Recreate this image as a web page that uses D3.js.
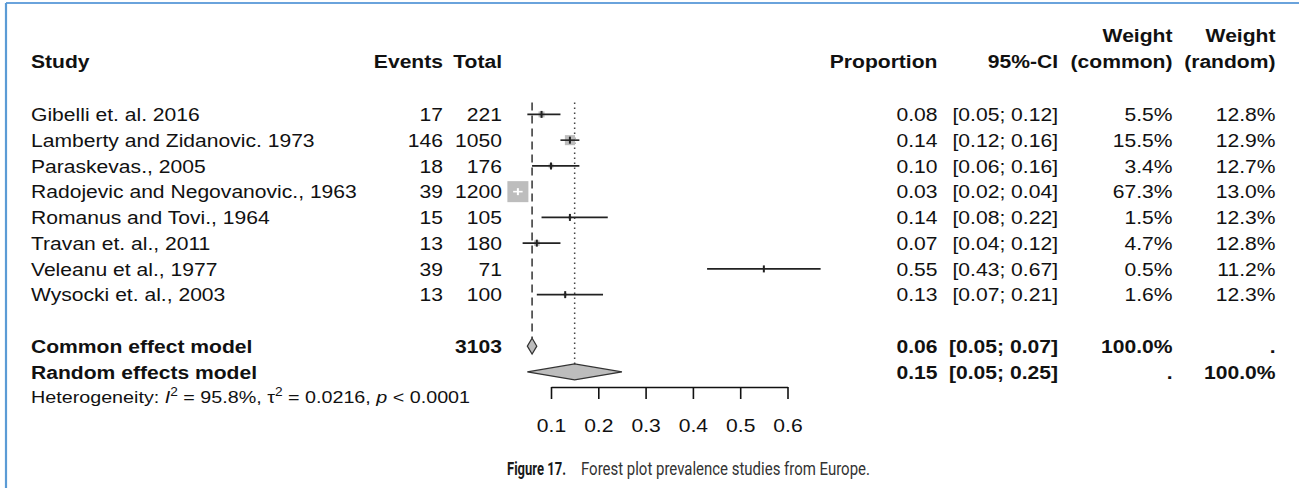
<!DOCTYPE html>
<html>
<head>
<meta charset="utf-8">
<script src="https://cdn.jsdelivr.net/npm/d3@7"></script>
<style>
  html, body { margin: 0; padding: 0; background: #fff; }
  svg { display: block; }
</style>
</head>
<body>
<svg id="chart" width="1299" height="488"></svg>
<script>
// ---------------- data ----------------
const studies = [
  "Gibelli et. al. 2016",
  "Lamberty and Zidanovic. 1973",
  "Paraskevas., 2005",
  "Radojevic and Negovanovic., 1963",
  "Romanus and Tovi., 1964",
  "Travan et. al., 2011",
  "Veleanu et al., 1977",
  "Wysocki et. al., 2003"
];
const events = [17, 146, 18, 39, 15, 13, 39, 13];
const totals = [221, 1050, 176, 1200, 105, 180, 71, 100];
const proportion = [0.08, 0.14, 0.10, 0.03, 0.14, 0.07, 0.55, 0.13];
const ciLower = [0.05, 0.12, 0.06, 0.02, 0.08, 0.04, 0.43, 0.07];
const ciUpper = [0.12, 0.16, 0.16, 0.04, 0.22, 0.12, 0.67, 0.21];
const weightCommon = [5.5, 15.5, 3.4, 67.3, 1.5, 4.7, 0.5, 1.6];
const weightRandom = [12.8, 12.9, 12.7, 13.0, 12.3, 12.8, 11.2, 12.3];

const pooledLabels = ["Common effect model", "Random effects model"];
const pooledEst = [0.06, 0.15];
const pooledLower = [0.05, 0.05];
const pooledUpper = [0.07, 0.25];
const pooledWeightCommon = ["100.0%", "."];
const pooledWeightRandom = [".", "100.0%"];
const pooledTotal = [3103, null];

const tickValues = [0.1, 0.2, 0.3, 0.4, 0.5, 0.6];
const headers = ["Study", "Events", "Total", "Proportion", "95%-CI", "(common)", "(random)"];
const heterogeneity = { I2: "95.8%", tau2: "0.0216", p: "< 0.0001" };
const captionBold = "Figure 17.";
const captionText = "Forest plot prevalence studies from Europe.";

// ---------------- layout ----------------
const svg = d3.select("#chart");
const FONT = "'Liberation Sans', Arial, Helvetica, sans-serif";
const FS = 18.5;       // font size
const SX = 1.14;       // horizontal stretch of the original picture
const ROW0 = 121;      // baseline of first study row
const ROWH = 25.75;
const HEAD2 = 68, HEAD1 = 42;
const CAP = 6.6;       // baseline -> centre

const col = { study: 31, events: 443, total: 502, prop: 937.5, ci: 1058, wc: 1172.5, wr: 1275.5 };

const x = d3.scaleLinear().domain([0.1, 0.6]).range([551, 787.5]);
const sq = d3.scaleSqrt().domain([0, 67.3]).range([0, 21]);

const fmt2 = d3.format(".2f");
const fmtW = d => d3.format(".1f")(d) + "%";
const ciStr = (l, u) => "[" + fmt2(l) + "; " + fmt2(u) + "]";

function txt(g, px, py, s, opt = {}) {
  return g.append("text")
    .attr("transform", `translate(${px},${py}) scale(${opt.sx || SX},1)`)
    .attr("font-family", opt.family || FONT)
    .attr("font-size", opt.size || FS)
    .attr("font-weight", opt.bold ? "bold" : "normal")
    .attr("text-anchor", opt.anchor || "start")
    .attr("fill", opt.fill || "#111")
    .text(s);
}

// border
svg.append("line").attr("x1", 6).attr("x2", 1299).attr("y1", 3).attr("y2", 3)
  .attr("stroke", "#6aa3dc").attr("stroke-width", 2);
svg.append("line").attr("x1", 6).attr("x2", 6).attr("y1", 3).attr("y2", 488)
  .attr("stroke", "#5b9bd5").attr("stroke-width", 2.2);

const g = svg.append("g");

// headers
txt(g, col.wc, HEAD1, "Weight", { bold: true, anchor: "end" });
txt(g, col.wr, HEAD1, "Weight", { bold: true, anchor: "end" });
txt(g, col.study, HEAD2, headers[0], { bold: true });
txt(g, col.events, HEAD2, headers[1], { bold: true, anchor: "end" });
txt(g, col.total, HEAD2, headers[2], { bold: true, anchor: "end" });
txt(g, col.prop, HEAD2, headers[3], { bold: true, anchor: "end" });
txt(g, col.ci, HEAD2, headers[4], { bold: true, anchor: "end" });
txt(g, col.wc, HEAD2, headers[5], { bold: true, anchor: "end" });
txt(g, col.wr, HEAD2, headers[6], { bold: true, anchor: "end" });

const rowBase = i => ROW0 + i * ROWH;

// reference lines
const nStud = studies.length;
const yCommon = rowBase(nStud + 1) - CAP;
const yRandom = rowBase(nStud + 2) - CAP;
const DH = 8; // half diamond height
const lineTop = rowBase(0) - CAP - 12;

svg.append("line")
  .attr("x1", x(pooledEst[0])).attr("x2", x(pooledEst[0]))
  .attr("y1", lineTop).attr("y2", yCommon - DH)
  .attr("stroke", "#333").attr("stroke-width", 1.5).attr("stroke-dasharray", "8,5");
svg.append("line")
  .attr("x1", x(pooledEst[1])).attr("x2", x(pooledEst[1]))
  .attr("y1", lineTop).attr("y2", yRandom - DH)
  .attr("stroke", "#444").attr("stroke-width", 1.5).attr("stroke-dasharray", "1.5,3.5");

// study rows
studies.forEach((s, i) => {
  const yb = rowBase(i);
  const yc = yb - CAP;
  txt(g, col.study, yb, s);
  txt(g, col.events, yb, events[i], { anchor: "end" });
  txt(g, col.total, yb, totals[i], { anchor: "end" });
  txt(g, col.prop, yb, fmt2(proportion[i]), { anchor: "end" });
  txt(g, col.ci, yb, ciStr(ciLower[i], ciUpper[i]), { anchor: "end" });
  txt(g, col.wc, yb, fmtW(weightCommon[i]), { anchor: "end" });
  txt(g, col.wr, yb, fmtW(weightRandom[i]), { anchor: "end" });

  const side = sq(weightCommon[i]);
  const cx = x(proportion[i]);
  const inside = (x(ciUpper[i]) - x(ciLower[i])) < side;
  svg.append("rect")
    .attr("x", cx - side / 2).attr("y", yc - side / 2)
    .attr("width", side).attr("height", side)
    .attr("fill", "#bdbdbd");
  svg.append("line")
    .attr("x1", x(ciLower[i])).attr("x2", x(ciUpper[i]))
    .attr("y1", yc).attr("y2", yc)
    .attr("stroke", inside ? "#fff" : "#222").attr("stroke-width", 1.6);
  svg.append("line")
    .attr("x1", cx).attr("x2", cx)
    .attr("y1", yc - 3.5).attr("y2", yc + 3.5)
    .attr("stroke", inside ? "#fff" : "#222").attr("stroke-width", 2);
});

// pooled rows
pooledLabels.forEach((lab, k) => {
  const yb = rowBase(nStud + 1 + k);
  const yc = yb - CAP;
  txt(g, col.study, yb, lab, { bold: true });
  if (pooledTotal[k] !== null) txt(g, col.total, yb, pooledTotal[k], { bold: true, anchor: "end" });
  txt(g, col.prop, yb, fmt2(pooledEst[k]), { bold: true, anchor: "end" });
  txt(g, col.ci, yb, ciStr(pooledLower[k], pooledUpper[k]), { bold: true, anchor: "end" });
  txt(g, col.wc, yb, pooledWeightCommon[k], { bold: true, anchor: "end" });
  txt(g, col.wr, yb, pooledWeightRandom[k], { bold: true, anchor: "end" });

  const pts = [
    [x(pooledLower[k]), yc], [x(pooledEst[k]), yc - DH],
    [x(pooledUpper[k]), yc], [x(pooledEst[k]), yc + DH]
  ];
  svg.append("path")
    .attr("d", d3.line()(pts) + "Z")
    .attr("fill", "#bdbdbd").attr("stroke", "#333").attr("stroke-width", 1.2);
});

// heterogeneity
const hy = rowBase(nStud + 3) - 1;
const ht = g.append("text")
  .attr("transform", `translate(${col.study},${hy}) scale(${SX},1)`)
  .attr("font-family", FONT).attr("font-size", 17.3).attr("fill", "#111");
ht.append("tspan").text("Heterogeneity: ");
ht.append("tspan").attr("font-style", "italic").text("I");
ht.append("tspan").attr("font-size", 12).attr("dy", -7).text("2");
ht.append("tspan").attr("dy", 7).text(" = " + heterogeneity.I2 + ", \u03C4");
ht.append("tspan").attr("font-size", 12).attr("dy", -7).text("2");
ht.append("tspan").attr("dy", 7).text(" = " + heterogeneity.tau2 + ", ");
ht.append("tspan").attr("font-style", "italic").text("p");
ht.append("tspan").text(" " + heterogeneity.p);

// axis
const axisY = 387;
const axis = d3.axisBottom(x).tickValues(tickValues).tickSize(12).tickSizeOuter(0)
  .tickFormat(d3.format(".1f"));
const ag = svg.append("g").attr("transform", `translate(0,${axisY})`).call(axis);
ag.select(".domain").attr("stroke", "#111").attr("stroke-width", 1.6);
ag.selectAll(".tick line").attr("stroke", "#111").attr("stroke-width", 1.6);
ag.selectAll(".tick text").remove();
ag.selectAll(".tick").each(function (d) {
  txt(d3.select(this), 0, 431.5 - axisY, d3.format(".1f")(d), { anchor: "middle" });
});

// caption: bold label and text, each fitted to its width in the original
const CAPFONT = "'Liberation Sans Narrow', 'Arial Narrow', 'Roboto', 'Liberation Sans', sans-serif";
function fitText(s, x0, x1, y, bold, fill) {
  const t = svg.append("text")
    .attr("font-size", 18)
    .attr("font-family", CAPFONT)
    .attr("font-weight", bold ? "bold" : "normal")
    .attr("fill", fill)
    .text(s);
  const len = t.node().getComputedTextLength();
  t.attr("transform", `translate(${x0},${y}) scale(${(x1 - x0) / len},1)`);
}
fitText(captionBold, 507, 566, 475, true, "#1a1a1a");
fitText(captionText, 581, 870, 475, false, "#333");
</script>
</body>
</html>
